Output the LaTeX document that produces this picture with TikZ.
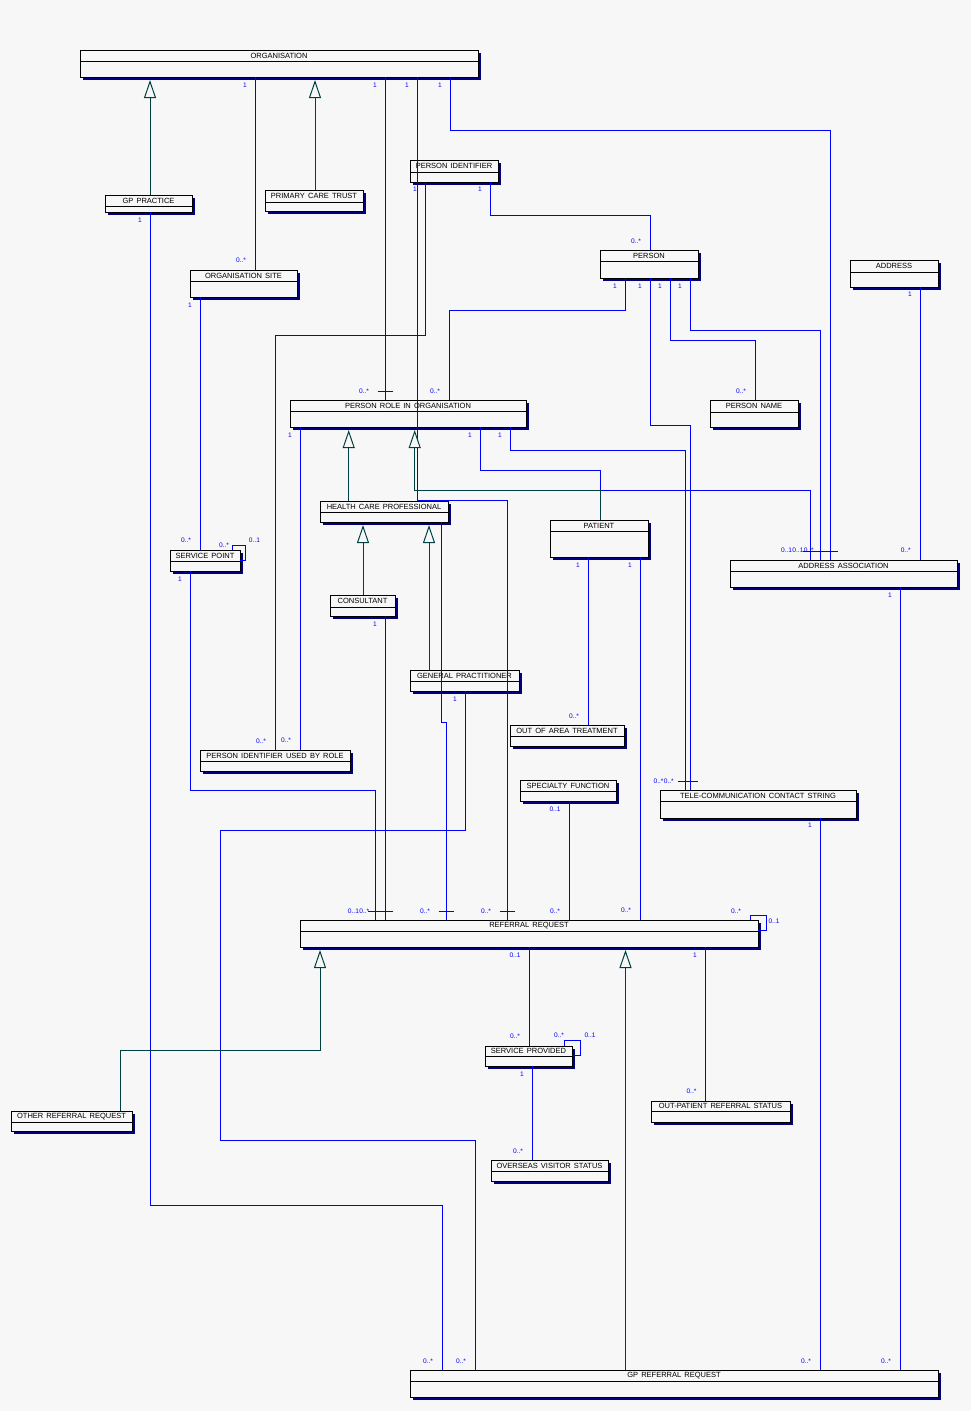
\documentclass[tikz,border=0pt]{standalone}
\usepackage{fontspec}
\setmainfont{Liberation Sans}
\newfontfamily\clsfont[WordSpace=1.5]{Liberation Sans}
\usetikzlibrary{arrows.meta,calc}
\definecolor{bgc}{RGB}{247,247,247}
\definecolor{mblue}{RGB}{0,0,255}
\definecolor{ggreen}{RGB}{0,64,64}
\definecolor{shadowc}{RGB}{0,0,128}
\tikzset{
 cls/.style={draw=black, fill=bgc, line width=1pt, rectangle, inner sep=0pt, outer sep=0pt},
 clsline/.style={draw=black, line width=1pt},
 clstext/.style={font=\clsfont\fontsize{7.5}{8}\selectfont, inner sep=0pt, text=black},
 assoc/.style={draw=mblue, line width=1pt},
 genl/.style={draw=ggreen, line width=1pt, -{Triangle[width=12pt, length=18pt, fill=bgc, line width=1pt]}, shorten >=3pt},
 mult/.style={font=\fontsize{6.6}{7}\selectfont, text=mblue, inner sep=0pt},
}
\newcommand\umlcls[7]{%
  \fill[shadowc] ({#2+3},{#3+3}) rectangle ({#4+3},{#5+3});
  \pgfmathsetmacro\clsw{#4-#2}\pgfmathsetmacro\clsh{#5-#3}
  \node[cls, minimum width=\clsw pt, minimum height=\clsh pt, anchor=north west] (#1) at (#2,#3) {};
  \draw[clsline] (#2,#6) -- (#4,#6);
  \node[clstext] (#1-t) at ({(#2+#4)/2},{(#3+#6)/2+0.3}) {#7};
}
\newcommand\ticktop[2]{\draw[assoc] ($(#1.north -| #2,0)+(-7.5,-9)$) -- +(15,0);}
\begin{document}
\begin{tikzpicture}[x=1pt,y=-1pt]
\fill[bgc] (0,0) rectangle (971,1411);
\useasboundingbox (0,0) rectangle (971,1411);
% classes
\umlcls{org}{80}{50}{478}{77}{61}{ORGANISATION}
\umlcls{gpp}{105}{195}{192}{212}{206}{GP PRACTICE}
\umlcls{pct}{265}{190}{363}{211}{202}{PRIMARY CARE TRUST}
\umlcls{osite}{190}{270}{297}{297}{281}{ORGANISATION SITE}
\umlcls{pid}{410}{160}{498}{182}{172}{PERSON IDENTIFIER}
\umlcls{person}{600}{250}{698}{278}{261}{PERSON}
\umlcls{address}{850}{260}{938}{287}{272}{ADDRESS}
\umlcls{prio}{290}{400}{526}{427}{411}{PERSON ROLE IN ORGANISATION}
\umlcls{pname}{710}{400}{798}{427}{412}{PERSON NAME}
\umlcls{hcp}{320}{501}{448}{522}{512}{HEALTH CARE PROFESSIONAL}
\umlcls{patient}{550}{520}{648}{557}{531}{PATIENT}
\umlcls{spoint}{170}{550}{240}{571}{561}{SERVICE POINT}
\umlcls{aassoc}{730}{560}{957}{587}{571}{ADDRESS ASSOCIATION}
\umlcls{consult}{330}{595}{395}{616}{607}{CONSULTANT}
\umlcls{gp}{410}{670}{519}{691}{681}{GENERAL PRACTITIONER}
\umlcls{oat}{510}{725}{624}{746}{736}{OUT OF AREA TREATMENT}
\umlcls{piubr}{200}{750}{350}{771}{761}{PERSON IDENTIFIER USED BY ROLE}
\umlcls{spec}{520}{780}{616}{801}{791}{SPECIALTY FUNCTION}
\umlcls{tccs}{660}{790}{856}{818}{801}{TELE-COMMUNICATION CONTACT STRING}
\umlcls{rr}{300}{920}{758}{947}{931}{REFERRAL REQUEST}
\umlcls{sprov}{485}{1046}{572}{1066}{1056}{SERVICE PROVIDED}
\umlcls{opstat}{651}{1101}{790}{1122}{1111}{OUT-PATIENT REFERRAL STATUS}
\umlcls{orr}{11}{1111}{132}{1131}{1122}{OTHER REFERRAL REQUEST}
\umlcls{ovs}{491}{1160}{608}{1181}{1171}{OVERSEAS VISITOR STATUS}
\umlcls{gprr}{410}{1370}{938}{1397}{1381}{GP REFERRAL REQUEST}
% associations
\draw[assoc] (org.south -| 255,0) -- (osite.north -| 255,0);
\draw[assoc] (org.south -| 385,0) -- (prio.north -| 385,0);
\draw[assoc] (org.south -| 417,0) -- (417,500) -- (507,500) -- (rr.north -| 507,0);
\draw[assoc] (org.south -| 450,0) -- (450,130) -- (830,130) -- (aassoc.north -| 830,0);
\draw[assoc] (gpp.south -| 150,0) -- (150,1205) -- (442.5,1205) -- (gprr.north -| 442.5,0);
\draw[assoc] (osite.south -| 200,0) -- (spoint.north -| 200,0);
\draw[assoc] (spoint.north -| 232,0) -- (232,545) -- (245,545) -- (245,560) -- (spoint.east |- 0,560);
\draw[assoc] (spoint.south -| 190,0) -- (190,790) -- (375,790) -- (rr.north -| 375,0);
\draw[assoc] (pid.south -| 490,0) -- (490,215) -- (650,215) -- (person.north -| 650,0);
\draw[assoc] (pid.south -| 425,0) -- (425,335) -- (275,335) -- (piubr.north -| 275,0);
\draw[assoc] (person.south -| 625,0) -- (625,310) -- (449,310) -- (prio.north -| 449,0);
\draw[assoc] (person.south -| 650,0) -- (650,425) -- (690,425) -- (tccs.north -| 690,0);
\draw[assoc] (person.south -| 670,0) -- (670,340) -- (755,340) -- (pname.north -| 755,0);
\draw[assoc] (person.south -| 690,0) -- (690,330) -- (820,330) -- (aassoc.north -| 820,0);
\draw[assoc] (address.south -| 920,0) -- (aassoc.north -| 920,0);
\draw[assoc] (prio.south -| 300,0) -- (piubr.north -| 300,0);
\draw[assoc] (prio.south -| 480,0) -- (480,470) -- (600,470) -- (600,490) -- (810,490) -- (aassoc.north -| 810,0);
\draw[assoc] (prio.south -| 510,0) -- (510,450) -- (685,450) -- (tccs.north -| 685,0);
\draw[assoc] (hcp.south -| 441,0) -- (441,722) -- (446,722) -- (rr.north -| 446,0);
\draw[assoc] (consult.south -| 385,0) -- (rr.north -| 385,0);
\draw[assoc] (gp.south -| 465,0) -- (465,830) -- (220,830) -- (220,1140) -- (475,1140) -- (gprr.north -| 475,0);
\draw[assoc] (patient.south -| 588,0) -- (oat.north -| 588,0);
\draw[assoc] (patient.south -| 640,0) -- (rr.north -| 640,0);
\draw[assoc] (spec.south -| 569,0) -- (rr.north -| 569,0);
\draw[assoc] (rr.north -| 750,0) -- (750,915) -- (766,915) -- (766,930) -- (rr.east |- 0,930);
\draw[assoc] (tccs.south -| 820,0) -- (gprr.north -| 820,0);
\draw[assoc] (aassoc.south -| 900,0) -- (gprr.north -| 900,0);
\draw[assoc] (rr.south -| 529,0) -- (sprov.north -| 529,0);
\draw[assoc] (sprov.north -| 564,0) -- (564,1040) -- (580,1040) -- (580,1055) -- (sprov.east |- 0,1055);
\draw[assoc] (sprov.south -| 532,0) -- (ovs.north -| 532,0);
\draw[assoc] (rr.south -| 705,0) -- (opstat.north -| 705,0);
% ticks
\ticktop{prio}{385}
\ticktop{rr}{375}\ticktop{rr}{385}\ticktop{rr}{446}\ticktop{rr}{507}
\ticktop{tccs}{685}\ticktop{tccs}{690}
\ticktop{aassoc}{810}\ticktop{aassoc}{820}\ticktop{aassoc}{830}
% generalisations
\draw[genl] (gpp.north -| 150,0) -- (org.south -| 150,0);
\draw[genl] (pct.north -| 315,0) -- (org.south -| 315,0);
\draw[genl] (hcp.north -| 348.7,0) -- (prio.south -| 348.7,0);
\draw[genl] (patient.north -| 600,0) -- (600,490) -- (414.7,490) -- (prio.south -| 414.7,0);
\draw[genl] (consult.north -| 363,0) -- (hcp.south -| 363,0);
\draw[genl] (gp.north -| 429,0) -- (hcp.south -| 429,0);
\draw[genl] (orr.north -| 120,0) -- (120,1050) -- (320,1050) -- (rr.south -| 320,0);
\draw[genl] (gprr.north -| 625.5,0) -- (rr.south -| 625.5,0);
% multiplicities
\node[mult] (m1) at (245,85) {1};
\node[mult] (m2) at (375,85) {1};
\node[mult] (m3) at (407,85) {1};
\node[mult] (m4) at (440,85) {1};
\node[mult] (m5) at (140,220) {1};
\node[mult] (m6) at (241,260) {0..*};
\node[mult] (m7) at (190,305) {1};
\node[mult] (m8) at (415,189) {1};
\node[mult] (m9) at (480,189) {1};
\node[mult] (m10) at (636,241) {0..*};
\node[mult] (m11) at (615,286) {1};
\node[mult] (m12) at (640,286) {1};
\node[mult] (m13) at (660,286) {1};
\node[mult] (m14) at (680,286) {1};
\node[mult] (m15) at (910,294) {1};
\node[mult] (m16) at (364,391) {0..*};
\node[mult] (m17) at (435,391) {0..*};
\node[mult] (m18) at (741,391) {0..*};
\node[mult] (m19) at (290,435) {1};
\node[mult] (m20) at (470,435) {1};
\node[mult] (m21) at (500,435) {1};
\node[mult] (m22) at (186,540) {0..*};
\node[mult] (m23) at (224,545) {0..*};
\node[mult] (m24) at (254.5,540) {0..1};
\node[mult] (m25) at (180,579) {1};
\node[mult, anchor=east] (m28) at (814,550) {0..*};
\node[mult, anchor=east] (m27) at (m28.west) {0..1};
\node[mult, anchor=east] (m26) at (m27.west) {0..1};
\node[mult] (m29) at (905.7,550) {0..*};
\node[mult] (m30) at (890,595) {1};
\node[mult] (m31) at (578,565) {1};
\node[mult] (m32) at (630,565) {1};
\node[mult] (m33) at (375,624) {1};
\node[mult] (m34) at (455,699) {1};
\node[mult] (m35) at (574,716) {0..*};
\node[mult] (m36) at (261,741) {0..*};
\node[mult] (m37) at (286,740) {0..*};
\node[mult, anchor=east] (m39) at (674,781) {0..*};
\node[mult, anchor=east] (m38) at (m39.west) {0..*};
\node[mult] (m40) at (555,809) {0..1};
\node[mult] (m41) at (810,825) {1};
\node[mult, anchor=east] (m43) at (369.5,911) {0..*};
\node[mult, anchor=east] (m42) at (m43.west) {0..1};
\node[mult] (m44) at (425,911) {0..*};
\node[mult] (m45) at (486,911) {0..*};
\node[mult] (m46) at (555,911) {0..*};
\node[mult] (m47) at (626,910) {0..*};
\node[mult] (m48) at (736,911) {0..*};
\node[mult] (m49) at (774,921) {0..1};
\node[mult] (m50) at (515,955) {0..1};
\node[mult] (m51) at (695,955) {1};
\node[mult] (m52) at (515,1036) {0..*};
\node[mult] (m53) at (559,1035) {0..*};
\node[mult] (m54) at (590,1035) {0..1};
\node[mult] (m55) at (522,1074) {1};
\node[mult] (m56) at (518,1151) {0..*};
\node[mult] (m57) at (691.5,1091) {0..*};
\node[mult] (m58) at (428,1361) {0..*};
\node[mult] (m59) at (461,1361) {0..*};
\node[mult] (m60) at (806,1361) {0..*};
\node[mult] (m61) at (886,1361) {0..*};
\end{tikzpicture}
\end{document}
